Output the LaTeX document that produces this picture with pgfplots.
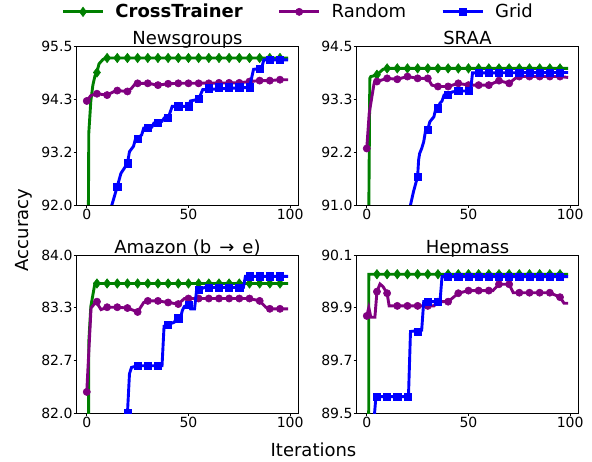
\documentclass[border=0pt]{standalone}
\usepackage{pgfplots}
\pgfplotsset{compat=1.18}
\usepackage{fontspec}
\setmainfont{DejaVu Sans}
\definecolor{cgreen}{HTML}{008000}
\definecolor{cpurple}{HTML}{800080}
\definecolor{cblue}{HTML}{0000FF}
\pgfplotsset{
  every axis title shift=0pt,
  panel/.style={
    scale only axis, width=221.5pt, height=158.3pt,
    anchor=south west,
    xmin=-4.95, xmax=103.95,
    xtick={0,50,100},
    tick align=outside, tick pos=left,
    major tick length=3pt,
    tick style={black, line width=0.8pt},
    axis line style={black, line width=0.8pt},
    tick label style={font=\fontsize{14}{16}\selectfont, inner sep=1pt},
    /pgf/number format/assume math mode=true,
    title style={font=\fontsize{18}{21}\selectfont, at={(0.5,1)}, anchor=base, yshift=1.7pt},
    clip marker paths=true,
  },
  gline/.style={cgreen, line width=2.9pt, mark=none},
  pline/.style={cpurple, line width=2.9pt, mark=none},
  bline/.style={cblue, line width=2.9pt, mark=none},
  gmark/.style={only marks, mark=diamond*, mark size=4.7pt, mark options={cgreen, fill=cgreen, solid, line width=0.6pt}},
  pmark/.style={only marks, mark=*, mark size=3.6pt, mark options={cpurple, fill=cpurple, solid, line width=0.6pt}},
  bmark/.style={only marks, mark=square*, mark size=3.6pt, mark options={cblue, fill=cblue, solid, line width=0.6pt}},
}
\begin{document}
\begin{tikzpicture}
\useasboundingbox (0pt,0pt) rectangle (592pt,461pt);
% ---------------- Newsgroups ----------------
\begin{axis}[panel, at={(76.7pt,256pt)},
  title={Newsgroups},
  ymin=92, ymax=95.5,
  ytick={92,93.16667,94.33333,95.5}, yticklabels={92.0,93.2,94.3,95.5},
  legend columns=3,
  legend style={at={(1.0,1.22)}, anchor=center, draw=none, fill=none,
    font=\fontsize{18}{21}\selectfont, inner sep=0pt,
    /tikz/every odd column/.append style={column sep=9pt},
    /tikz/every even column/.append style={column sep=33pt}},
  legend image code/.code={\draw[mark repeat=2, mark phase=2, #1] plot coordinates {(0pt,0pt) (20pt,0pt) (40pt,0pt)};},
]
\addlegendimage{cgreen, line width=2.9pt, mark=diamond*, mark size=4.7pt, mark options={solid, fill=cgreen, line width=0.6pt}}
\addlegendentry{\textbf{CrossTrainer}}
\addlegendimage{cpurple, line width=2.9pt, mark=*, mark size=3.6pt, mark options={solid, fill=cpurple, line width=0.6pt}}
\addlegendentry{Random}
\addlegendimage{cblue, line width=2.9pt, mark=square*, mark size=3.6pt, mark options={solid, fill=cblue, line width=0.6pt}}
\addlegendentry{Grid}
\addplot[gline] coordinates {(0,85)(1,93.6)(2,94.3)(3,94.65)(4,94.85)(5,94.93)(6,95.12)(7,95.17)(8,95.22)(10,95.25)(99,95.25)};
\addplot[gmark] coordinates {(0,85)(5,94.93)(10,95.25)(15,95.25)(20,95.25)(25,95.25)(30,95.25)(35,95.25)(40,95.25)(45,95.25)(50,95.25)(55,95.25)(60,95.25)(65,95.25)(70,95.25)(75,95.25)(80,95.25)(85,95.25)(90,95.25)(95,95.25)};
\addplot[pline] coordinates {(0,94.30)(2,94.42)(5,94.46)(10,94.43)(13,94.50)(15,94.53)(20,94.51)(22,94.58)(24,94.69)(30,94.69)(35,94.65)(40,94.68)(45,94.69)(75,94.70)(80,94.73)(85,94.75)(90,94.75)(95,94.77)(99,94.77)};
\addplot[pmark] coordinates {(0,94.30)(5,94.46)(10,94.43)(15,94.53)(20,94.51)(25,94.69)(30,94.69)(35,94.65)(40,94.68)(45,94.69)(50,94.69)(55,94.69)(60,94.69)(65,94.70)(70,94.70)(75,94.70)(80,94.73)(85,94.75)(90,94.75)(95,94.77)};
\addplot[bline] coordinates {(11,91.8)(13,92.1)(15,92.41)(16.8,92.70)(19,92.85)(20,92.92)(21,93.18)(23,93.30)(24,93.47)(25,93.47)(27,93.55)(28,93.70)(30,93.70)(32,93.72)(33,93.81)(35,93.81)(37,93.85)(38,93.92)(40,93.92)(42,94.18)(50,94.18)(51,94.30)(55,94.34)(57,94.55)(80,94.60)(82,95.0)(86,95.02)(87,95.21)(99,95.21)};
\addplot[bmark] coordinates {(15,92.41)(20,92.92)(25,93.47)(30,93.70)(35,93.81)(40,93.92)(45,94.18)(50,94.18)(55,94.34)(60,94.58)(65,94.60)(70,94.60)(75,94.60)(80,94.60)(85,95.02)(90,95.21)(95,95.21)};
\end{axis}
% ---------------- SRAA ----------------
\begin{axis}[panel, at={(356.7pt,256pt)},
  title={SRAA},
  ymin=91, ymax=94.5,
  ytick={91,92.16667,93.33333,94.5}, yticklabels={91.0,92.2,93.3,94.5},
]
\addplot[gline] coordinates {(0,85)(1.5,93.80)(2,93.84)(4,93.86)(5,93.88)(8,94.00)(10,94.02)(99,94.02)};
\addplot[gmark] coordinates {(0,85)(5,93.88)(10,94.02)(15,94.02)(20,94.02)(25,94.02)(30,94.02)(35,94.02)(40,94.02)(45,94.02)(50,94.02)(55,94.02)(60,94.02)(65,94.02)(70,94.02)(75,94.02)(80,94.02)(85,94.02)(90,94.02)(95,94.02)};
\addplot[pline] coordinates {(0,92.25)(1.2,93.03)(3.6,93.69)(5,93.73)(10,93.80)(15,93.78)(20,93.84)(25,93.80)(30,93.80)(32,93.65)(35,93.62)(40,93.62)(45,93.69)(50,93.65)(60,93.65)(65,93.75)(70,93.69)(73,93.80)(75,93.84)(95,93.84)(99,93.82)};
\addplot[pmark] coordinates {(0,92.25)(5,93.73)(10,93.80)(15,93.78)(20,93.84)(25,93.80)(30,93.80)(35,93.62)(40,93.62)(45,93.69)(50,93.65)(55,93.65)(60,93.65)(65,93.75)(70,93.69)(75,93.84)(80,93.84)(85,93.84)(90,93.84)(95,93.84)};
\addplot[bline] coordinates {(21,90.9)(23,91.3)(25,91.63)(25.5,92.0)(26,92.14)(27,92.25)(28,92.40)(29,92.67)(30,92.67)(31,92.84)(33,92.95)(34,93.14)(35,93.14)(36,93.25)(37,93.30)(38,93.43)(40,93.43)(42,93.50)(45,93.52)(51,93.52)(52,93.92)(99,93.93)};
\addplot[bmark] coordinates {(25,91.63)(30,92.67)(35,93.14)(40,93.43)(45,93.52)(50,93.52)(55,93.93)(60,93.93)(65,93.93)(70,93.93)(75,93.93)(80,93.93)(85,93.93)(90,93.93)(95,93.93)};
\end{axis}
% ---------------- Amazon ----------------
\begin{axis}[panel, at={(76.7pt,47.7pt)},
  title={Amazon (b\hspace{0.45em}→\hspace{0.45em}e)},
  ymin=82, ymax=84,
  ytick={82,82.66667,83.33333,84}, yticklabels={82.0,82.7,83.3,84.0},
]
\addplot[gline] coordinates {(0,70)(1,82.9)(2,83.35)(4,83.64)(99,83.64)};
\addplot[gmark] coordinates {(0,70)(5,83.64)(10,83.64)(15,83.64)(20,83.64)(25,83.64)(30,83.64)(35,83.64)(40,83.64)(45,83.64)(50,83.64)(55,83.64)(60,83.64)(65,83.64)(70,83.64)(75,83.64)(80,83.64)(85,83.64)(90,83.64)(95,83.64)};
\addplot[pline] coordinates {(0,82.27)(2.1,83.33)(4.6,83.41)(7,83.31)(10,83.34)(15,83.34)(20,83.33)(25,83.28)(28,83.40)(30,83.42)(35,83.42)(40,83.40)(45,83.38)(48,83.45)(80,83.45)(85,83.42)(88,83.34)(90,83.32)(99,83.32)};
\addplot[pmark] coordinates {(0,82.27)(5,83.41)(10,83.34)(15,83.34)(20,83.33)(25,83.28)(30,83.42)(35,83.42)(40,83.40)(45,83.38)(50,83.45)(55,83.45)(60,83.45)(65,83.45)(70,83.45)(75,83.45)(80,83.45)(85,83.42)(90,83.32)(95,83.32)};
\addplot[bline] coordinates {(19,81.5)(20,82.0)(21,82.5)(22,82.58)(25,82.60)(37,82.60)(38,83.10)(40,83.12)(43,83.15)(44,83.20)(46,83.20)(47,83.30)(48,83.35)(50,83.37)(51,83.32)(53,83.32)(54,83.56)(57,83.58)(58,83.59)(77,83.59)(78,83.73)(99,83.73)};
\addplot[bmark] coordinates {(20,82.0)(25,82.60)(30,82.60)(35,82.60)(40,83.12)(45,83.20)(50,83.37)(55,83.56)(60,83.59)(65,83.59)(70,83.59)(75,83.59)(80,83.73)(85,83.73)(90,83.73)(95,83.73)};
\end{axis}
% ---------------- Hepmass ----------------
\begin{axis}[panel, at={(356.7pt,47.7pt)},
  title={Hepmass},
  ymin=89.5, ymax=90.1,
  ytick={89.5,89.7,89.9,90.1}, yticklabels={89.5,89.7,89.9,90.1},
]
\addplot[gline] coordinates {(0,80)(1,90.027)(99,90.027)};
\addplot[gmark] coordinates {(0,80)(5,90.027)(10,90.027)(15,90.027)(20,90.027)(25,90.027)(30,90.027)(35,90.027)(40,90.027)(45,90.027)(50,90.027)(55,90.027)(60,90.027)(65,90.027)(70,90.027)(75,90.027)(80,90.027)(85,90.027)(90,90.027)(95,90.027)};
\addplot[pline] coordinates {(0,89.869)(1,89.90)(2,89.864)(4,89.864)(5,89.961)(6.5,89.99)(8,89.98)(10,89.955)(11,89.907)(33,89.907)(35,89.923)(40,89.923)(45,89.955)(50,89.965)(62,89.965)(65,89.989)(70,89.989)(72,89.957)(90,89.957)(95,89.94)(97,89.917)(99,89.917)};
\addplot[pmark] coordinates {(0,89.869)(5,89.961)(10,89.955)(15,89.907)(20,89.907)(25,89.907)(30,89.907)(35,89.923)(40,89.923)(45,89.955)(50,89.965)(55,89.965)(60,89.965)(65,89.989)(70,89.989)(75,89.957)(80,89.957)(85,89.957)(90,89.957)(95,89.94)};
\addplot[bline] coordinates {(3.3,89.45)(4.5,89.563)(20.5,89.563)(21.5,89.81)(27,89.815)(28,89.923)(36,89.923)(37,90.018)(99,90.018)};
\addplot[bmark] coordinates {(5,89.563)(10,89.563)(15,89.563)(20,89.563)(25,89.81)(30,89.923)(35,89.923)(40,90.018)(45,90.018)(50,90.018)(55,90.018)(60,90.018)(65,90.018)(70,90.018)(75,90.018)(80,90.018)(85,90.018)(90,90.018)(95,90.018)};
\end{axis}
\node[rotate=90, anchor=base, font=\fontsize{18}{21}\selectfont] at (28pt,231pt) {Accuracy};
\node[anchor=base, font=\fontsize{18}{21}\selectfont] at (313.5pt,5pt) {Iterations};
\end{tikzpicture}
\end{document}
